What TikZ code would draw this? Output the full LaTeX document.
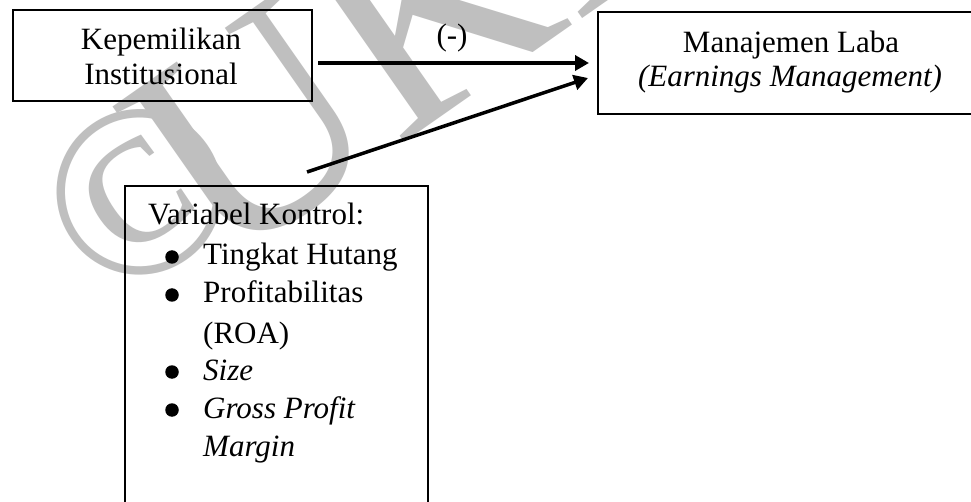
\documentclass[tikz,border=0pt]{standalone}
\usepackage{fontspec}
\setmainfont{Liberation Serif}
\usetikzlibrary{arrows.meta,calc}
\begin{document}
\begin{tikzpicture}[x=1pt,y=-1pt,
  box/.style={draw=black,line width=2pt,rectangle,inner sep=0pt},
  txt/.style={inner sep=0pt,font=\fontsize{31}{35}\selectfont},
  bul/.style={circle,fill=black,inner sep=0pt,minimum size=13.5pt},
  conn/.style={line width=3.5pt,-{Triangle[length=14pt,width=15pt]}},
  wm/.style={inner sep=0pt,text=black!25}]
\useasboundingbox (0,0) rectangle (971,502);
\fill[white] (0,0) rectangle (971,502);
% watermark
\node[wm,anchor=center,rotate=35,font=\fontsize{245}{245}\selectfont] (wcopy) at (140,192) {©};
\node[wm,anchor=base west,rotate=35,font=\fontsize{300}{300}\selectfont] (wukd) at (220,272) {UKD};
% boxes
\node[box,minimum width=299pt,minimum height=91pt] (inst) at (162.5,55.5) {};
\node[box,minimum width=374pt,minimum height=102pt] (mgmt) at (785,63) {};
\node[box,minimum width=303pt,minimum height=324pt] (ctrl) at (276.5,348) {};
% texts
\node[txt,anchor=base] (t1) at (161,50) {Kepemilikan};
\node[txt,anchor=base] (t2) at (161,85) {Institusional};
\node[txt,anchor=base] (t3) at (791,53) {Manajemen Laba};
\node[txt,anchor=base] (t4) at (790,87) {\itshape(Earnings Management)};
\node[txt,anchor=base] (neg) at (452,46) {(-)};
\node[txt,anchor=base west] (v0) at (148,225) {Variabel Kontrol:};
\node[txt,anchor=base west] (v1) at (203,265) {Tingkat Hutang};
\node[txt,anchor=base west] (v2) at (203,303) {Profitabilitas};
\node[txt,anchor=base west] (v3) at (203,343) {(ROA)};
\node[txt,anchor=base west] (v4) at (203,380) {\itshape Size};
\node[txt,anchor=base west] (v5) at (203,418) {\itshape Gross Profit};
\node[txt,anchor=base west] (v6) at (203,456) {\itshape Margin};
\node[bul] (b1) at (172,257) {};
\node[bul] (b2) at (172,295) {};
\node[bul] (b4) at (172,372) {};
\node[bul] (b5) at (172,410) {};
% connectors
\draw[conn] ($(inst.east)+(5,7.5)$) -- ($(mgmt.west)+(-8,0)$);
\draw[conn] ($(ctrl.north)+(30.5,-13)$) -- ($(mgmt.west)+(-9,15)$);
\end{tikzpicture}
\end{document}
